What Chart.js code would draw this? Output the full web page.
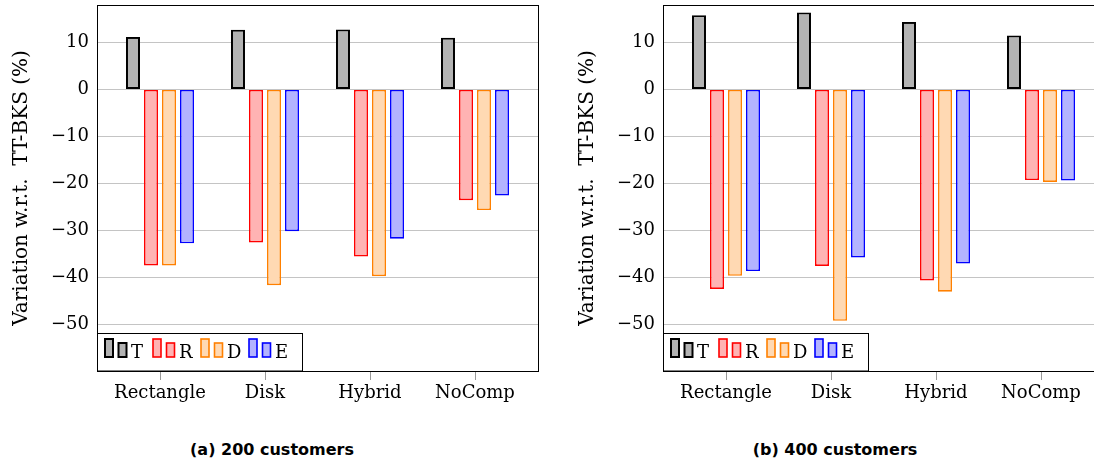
<!DOCTYPE html>
<html>
<head>
<meta charset="utf-8">
<script src="https://cdn.jsdelivr.net/npm/chart.js@4.4.1/dist/chart.umd.min.js"></script>
<style>
    html, body { margin: 0; padding: 0; background: #fff; }
    body { width: 1094px; height: 461px; position: relative; overflow: hidden; }
    canvas { position: absolute; top: 0; }
    #chartA { left: 0; }
    #chartB { left: 566px; }
    .caption {
        position: absolute; top: 439px; width: 300px; text-align: center; line-height: 22px;
        font-family: "DejaVu Sans", sans-serif; font-weight: 700; font-size: 16px; color: #000;
    }
</style>
</head>
<body>
<canvas id="chartA" width="545" height="420"></canvas>
<canvas id="chartB" width="545" height="420"></canvas>
<div class="caption" style="left:122px">(a) 200 customers</div>
<div class="caption" style="left:685px">(b) 400 customers</div>
<script>
// Data
const categories = ["Rectangle", "Disk", "Hybrid", "NoComp"];
const seriesNames = ["T", "R", "D", "E"];
const yTicks = [-50, -40, -30, -20, -10, 0, 10];

// (a) 200 customers
const t200 = [11.2, 12.7, 12.8, 11.0];
const r200 = [-37.5, -32.6, -35.6, -23.6];
const d200 = [-37.5, -41.7, -39.8, -25.7];
const e200 = [-32.8, -30.2, -31.8, -22.6];

// (b) 400 customers
const t400 = [15.8, 16.4, 14.4, 11.5];
const r400 = [-42.5, -37.6, -40.7, -19.3];
const d400 = [-39.7, -49.3, -43.1, -19.7];
const e400 = [-38.7, -35.8, -37.1, -19.4];

const borderColors = ["#000000", "#ff0000", "#ff8000", "#0000ff"];
const fillColors = ["#b3b3b3", "#ffb3b3", "#ffd9b3", "#b3b3ff"];
const borderWidths = [2, 1.6, 1.6, 1.6];

Chart.defaults.font.family = "'DejaVu Serif', serif";
Chart.defaults.font.size = 18;
Chart.defaults.color = "#000";

// Frame around the plot and the inline legend box
const framePlugin = {
    id: "frame",
    afterDraw(chart) {
        const ctx = chart.ctx;
        const a = chart.chartArea;
        ctx.save();

        // legend
        const lx = a.left, lw = 205, lh = 38;
        const ly = a.bottom - lh;
        ctx.fillStyle = "#fff";
        ctx.fillRect(lx, ly, lw, lh);
        ctx.strokeStyle = "#000";
        ctx.lineWidth = 1;
        ctx.strokeRect(lx + 0.5, ly + 0.5, lw, lh - 0.5);

        const base = a.bottom - 14;
        chart.data.datasets.forEach((ds, i) => {
            const x = lx + 8 + i * 48;
            ctx.fillStyle = ds.backgroundColor;
            ctx.strokeStyle = ds.borderColor;
            ctx.lineWidth = ds.borderWidth;
            ctx.fillRect(x, base - 18, 8, 18);
            ctx.strokeRect(x, base - 18, 8, 18);
            ctx.fillRect(x + 13.5, base - 14, 8, 14);
            ctx.strokeRect(x + 13.5, base - 14, 8, 14);
            ctx.fillStyle = "#000";
            ctx.font = "18px 'DejaVu Serif', serif";
            ctx.textAlign = "left";
            ctx.textBaseline = "alphabetic";
            ctx.fillText(ds.label, x + 26, base + 1);
        });

        // frame
        ctx.strokeStyle = "#000";
        ctx.lineWidth = 1;
        ctx.strokeRect(a.left + 0.5, a.top + 0.5, a.width, a.height);
        ctx.restore();
    }
};

function makeChart(id, series) {
    const ctx = document.getElementById(id).getContext("2d");
    return new Chart(ctx, {
        type: "bar",
        data: {
            datasets: series.map((vals, i) => ({
                label: seriesNames[i],
                data: vals.map((v, k) => ({ x: k, y: v })),
                backgroundColor: fillColors[i],
                borderColor: borderColors[i],
                borderWidth: borderWidths[i],
                borderSkipped: false,
                categoryPercentage: 0.686,
                barPercentage: 0.778
            }))
        },
        options: {
            responsive: false,
            animation: false,
            devicePixelRatio: 1,
            layout: {
                padding: { top: 5, right: 7, left: 0, bottom: 0 }
            },
            plugins: {
                legend: { display: false },
                tooltip: { enabled: false }
            },
            scales: {
                x: {
                    type: "linear",
                    min: -0.6,
                    max: 3.6,
                    offset: false,
                    border: { display: false },
                    grid: {
                        offset: false,
                        drawOnChartArea: false,
                        drawTicks: true,
                        tickLength: 9,
                        color: "#999"
                    },
                    ticks: {
                        padding: 3,
                        callback: value => categories[value] || ""
                    },
                    afterBuildTicks: scale => {
                        scale.ticks = categories.map((c, k) => ({ value: k }));
                    },
                    afterFit: scale => {
                        scale.height = 49;
                        scale.paddingLeft = 0;
                        scale.paddingRight = 0;
                    }
                },
                y: {
                    min: -60,
                    max: 18,
                    border: { display: false },
                    grid: {
                        color: "#c4c4c4",
                        drawTicks: false
                    },
                    ticks: {
                        padding: 8,
                        callback: value => value < 0 ? "\u2212" + Math.abs(value) : String(value)
                    },
                    afterBuildTicks: scale => {
                        scale.ticks = yTicks.map(v => ({ value: v }));
                    },
                    afterFit: scale => {
                        scale.width = 97;
                        scale.paddingTop = 0;
                        scale.paddingBottom = 0;
                    },
                    title: {
                        display: true,
                        text: "Variation w.r.t.  TT-BKS (%)",
                        font: { size: 20 },
                        padding: { top: 10, bottom: 0 }
                    }
                }
            }
        },
        plugins: [framePlugin]
    });
}

makeChart("chartA", [t200, r200, d200, e200]);
makeChart("chartB", [t400, r400, d400, e400]);
</script>
</body>
</html>
